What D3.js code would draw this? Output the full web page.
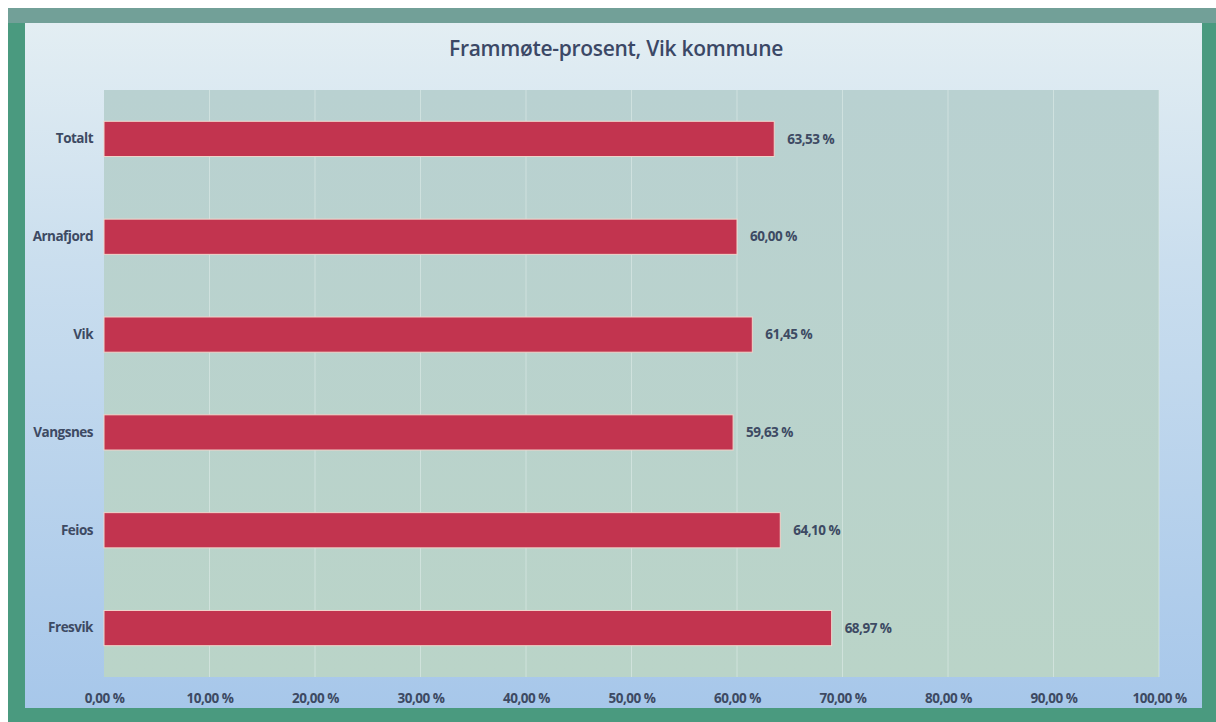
<!DOCTYPE html>
<meta charset="utf-8">
<style>
body { margin: 0; background: #fff; }
svg text { font-family: "Open Sans", sans-serif; }
</style>
<script src="https://d3js.org/d3.v7.min.js"></script>
<div id="chart"></div>
<script>
// data
var categories = ["Totalt", "Arnafjord", "Vik", "Vangsnes", "Feios", "Fresvik"];
var values = [63.53, 60.00, 61.45, 59.63, 64.10, 68.97];
var ticks = [0, 10, 20, 30, 40, 50, 60, 70, 80, 90, 100];
var title = "Frammøte-prosent, Vik kommune";

var W = 1216, H = 722;
var margin = {top: 90, right: 57, bottom: 45, left: 104},
    width = W - margin.left - margin.right,
    height = H - margin.top - margin.bottom;

var no = d3.formatLocale({decimal: ",", thousands: " ", grouping: [3], currency: ["", " kr"]});
var pct = function(v) { return no.format(".2f")(v) + " %"; };

var svg = d3.select("#chart").append("svg")
    .attr("width", W)
    .attr("height", H);

var defs = svg.append("defs");
var grad = defs.append("linearGradient").attr("id", "panel")
    .attr("x1", 0).attr("y1", 0).attr("x2", 0).attr("y2", 1);
grad.append("stop").attr("offset", "0%").attr("stop-color", "#e3eef3");
grad.append("stop").attr("offset", "35%").attr("stop-color", "#cadeee");
grad.append("stop").attr("offset", "100%").attr("stop-color", "#a7c7ea");

var pgrad = defs.append("linearGradient").attr("id", "plotbg")
    .attr("x1", 0).attr("y1", 0).attr("x2", 0).attr("y2", 1);
pgrad.append("stop").attr("offset", "0%").attr("stop-color", "#b9d1d1");
pgrad.append("stop").attr("offset", "100%").attr("stop-color", "#bad4c8");

// frame + panel
svg.append("rect").attr("x", 8).attr("y", 8).attr("width", W - 8).attr("height", H - 8)
    .attr("fill", "#4a9a7f");
svg.append("rect").attr("x", 8).attr("y", 8).attr("width", W - 8).attr("height", 15)
    .attr("fill", "#72a098");
svg.append("rect").attr("x", 25).attr("y", 23).attr("width", 1177).attr("height", 685)
    .attr("fill", "url(#panel)");

svg.append("text")
    .attr("x", 616).attr("y", 56)
    .attr("text-anchor", "middle")
    .style("font-size", "21px")
    .style("font-weight", "600")
    .style("fill", "#3b4866")
    .style("letter-spacing", "-0.3px")
    .text(title);

var g = svg.append("g")
    .attr("transform", "translate(" + margin.left + "," + margin.top + ")");

var x = d3.scaleLinear().domain([0, 100]).range([0, width]);
var y = d3.scaleBand().domain(categories).range([0, height]).paddingInner(0.64).paddingOuter(0.32);

g.append("rect").attr("width", width).attr("height", height).attr("fill", "url(#plotbg)");

// gridlines
g.selectAll(".grid")
    .data(ticks.slice(1))
    .enter().append("line")
    .attr("x1", function(d) { return x(d); })
    .attr("x2", function(d) { return x(d); })
    .attr("y1", 0).attr("y2", height)
    .attr("stroke", "#dfece9").attr("stroke-width", 1).attr("opacity", 0.6);

var txt = function(sel) {
    sel.style("font-size", "13.5px").style("font-weight", "700")
       .style("fill", "#3d4a63").style("letter-spacing", "-0.5px");
};

// x axis
var xAxis = d3.axisBottom(x).tickValues(ticks).tickSize(0).tickPadding(16).tickFormat(pct);
var xa = g.append("g")
    .attr("transform", "translate(0," + height + ")")
    .call(xAxis);
xa.select(".domain").remove();
xa.selectAll("text").call(txt);

// y axis
var yAxis = d3.axisLeft(y).tickSize(0).tickPadding(11);
var ya = g.append("g").call(yAxis);
ya.select(".domain").remove();
ya.selectAll("text").call(txt);

// bars
var data = categories.map(function(c, i) { return {cat: c, val: values[i]}; });
g.selectAll(".bar")
    .data(data)
    .enter().append("rect")
    .attr("class", "bar")
    .attr("x", 0)
    .attr("y", function(d) { return y(d.cat); })
    .attr("width", function(d) { return x(d.val); })
    .attr("height", y.bandwidth())
    .attr("fill", "#c2344f")
    .attr("stroke", "#f1d6cc")
    .attr("stroke-width", 1);

g.selectAll(".lbl")
    .data(data)
    .enter().append("text")
    .attr("x", function(d) { return x(d.val) + 13; })
    .attr("y", function(d) { return y(d.cat) + y.bandwidth() / 2; })
    .attr("dy", "0.35em")
    .call(txt)
    .text(function(d) { return pct(d.val); });
</script>
